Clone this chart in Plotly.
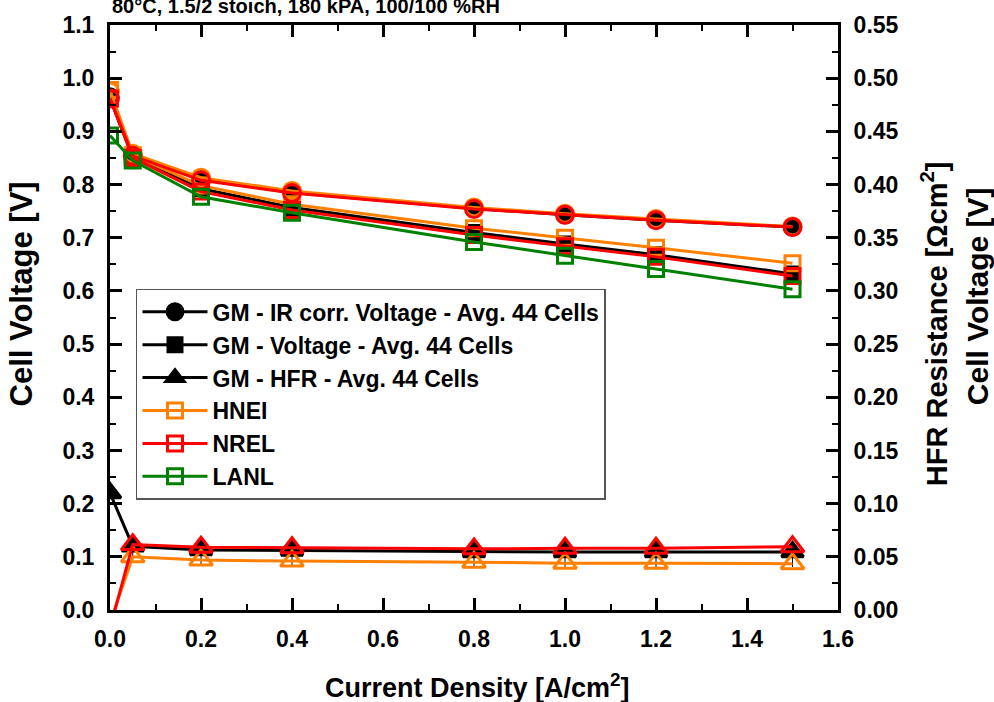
import plotly.graph_objects as go

# ---------------- data ----------------
current_density = [0.0, 0.05, 0.2, 0.4, 0.8, 1.0, 1.2, 1.5]

gm_ir_voltage = [0.965, 0.855, 0.810, 0.785, 0.755, 0.743, 0.733, 0.720]
hnei_ir_voltage = [0.975, 0.858, 0.813, 0.788, 0.757, 0.745, 0.735, 0.721]
nrel_ir_voltage = [0.962, 0.854, 0.808, 0.784, 0.754, 0.743, 0.733, 0.720]

gm_voltage = [0.962, 0.852, 0.792, 0.757, 0.710, 0.688, 0.668, 0.632]
hnei_voltage = [0.978, 0.855, 0.798, 0.763, 0.718, 0.700, 0.681, 0.652]
nrel_voltage = [0.962, 0.850, 0.787, 0.752, 0.705, 0.684, 0.664, 0.628]
lanl_voltage = [0.892, 0.845, 0.777, 0.747, 0.692, 0.666, 0.641, 0.603]

gm_hfr = [0.110, 0.060, 0.0565, 0.056, 0.0545, 0.0545, 0.0545, 0.0545]
gm_hfr_err_minus = [0.0, 0.014, 0.014, 0.014, 0.014, 0.014, 0.014, 0.014]
nrel_hfr = [-0.017, 0.0615, 0.059, 0.0585, 0.0575, 0.058, 0.058, 0.0595]
hnei_hfr = [-0.012, 0.050, 0.047, 0.046, 0.045, 0.044, 0.044, 0.0435]

x_ticks = [0.0, 0.2, 0.4, 0.6, 0.8, 1.0, 1.2, 1.4, 1.6]

title_text = "80°C, 1.5/2 stoich, 180 kPA, 100/100 %RH"
legend_names = [
    "GM - IR corr. Voltage - Avg. 44 Cells",
    "GM - Voltage - Avg. 44 Cells",
    "GM - HFR - Avg. 44 Cells",
    "HNEI",
    "NREL",
    "LANL",
]

# ---------------- styles ----------------
BLACK = "#000000"
ORANGE = "#FF8000"
RED = "#FF0000"
GREEN = "#008000"
FONT = "Liberation Sans"
LW = 3

fig = go.Figure()


def add(y, color, symbol, size, name=None, rank=None, yaxis="y", legend=True, err=None):
    tr = go.Scatter(
        x=current_density, y=y, mode="lines+markers", yaxis=yaxis,
        line=dict(color=color, width=LW),
        marker=dict(symbol=symbol, size=size, color=color,
                    line=dict(color=color, width=3)),
        name=name, showlegend=legend,
    )
    if rank is not None:
        tr.legendrank = rank
    if err is not None:
        tr.error_y = dict(type="data", symmetric=False,
                          array=[0] * len(err), arrayminus=err,
                          color=BLACK, thickness=1, width=0)
    fig.add_trace(tr)


# GM (drawn first, underneath)
add(gm_ir_voltage, BLACK, "circle", 16, legend_names[0], 1)
add(gm_voltage, BLACK, "square", 14, legend_names[1], 2)
add(gm_hfr, BLACK, "triangle-up", 19, legend_names[2], 3, yaxis="y2", err=gm_hfr_err_minus)
# HNEI
add(hnei_ir_voltage, ORANGE, "circle-open", 17, legend=False)
add(hnei_voltage, ORANGE, "square-open", 15, legend_names[3], 4)
add(hnei_hfr, ORANGE, "triangle-up-open", 20, yaxis="y2", legend=False)
# NREL
add(nrel_ir_voltage, RED, "circle-open", 17, legend=False)
add(nrel_voltage, RED, "square-open", 15, legend_names[4], 5)
add(nrel_hfr, RED, "triangle-up-open", 20, yaxis="y2", legend=False)
# LANL
add(lanl_voltage, GREEN, "square-open", 15, legend_names[5], 6)

tickfont = dict(family=FONT, size=23, color=BLACK, weight="bold")


def tfont(size):
    return dict(family=FONT, size=size, color=BLACK, weight="bold")


fig.update_layout(
    width=994, height=702,
    margin=dict(l=110, r=156, t=22, b=92, pad=0),
    paper_bgcolor="white", plot_bgcolor="white",
    showlegend=True,
    legend=dict(
        x=0.0357, y=0.549, xanchor="left", yanchor="top",
        bgcolor="white", bordercolor="#555555", borderwidth=1.5,
        font=tfont(23),
        itemwidth=65, tracegroupgap=0,
        traceorder="normal",
    ),
    xaxis=dict(
        range=[0, 1.6], tickvals=x_ticks, tickformat=".1f",
        ticks="inside", ticklen=12, tickwidth=3, tickcolor=BLACK,
        minor=dict(ticks="inside", ticklen=6, tickwidth=2, dtick=0.1, tickcolor=BLACK),
        showline=True, linewidth=3, linecolor=BLACK, mirror="ticks",
        showgrid=False, zeroline=False, tickfont=tickfont,
        ticklabelstandoff=6,
    ),
    yaxis=dict(
        range=[0, 1.1], dtick=0.1, tick0=0, tickformat=".1f",
        ticks="inside", ticklen=12, tickwidth=3, tickcolor=BLACK,
        minor=dict(ticks="inside", ticklen=6, tickwidth=2, dtick=0.05, tickcolor=BLACK),
        showline=True, linewidth=3, linecolor=BLACK,
        showgrid=False, zeroline=False, tickfont=tickfont,
        ticklabelstandoff=8,
    ),
    yaxis2=dict(
        range=[0, 0.55], dtick=0.05, tick0=0, tickformat=".2f",
        overlaying="y", side="right",
        ticks="inside", ticklen=12, tickwidth=3, tickcolor=BLACK,
        minor=dict(ticks="inside", ticklen=6, tickwidth=2, dtick=0.025, tickcolor=BLACK),
        showline=True, linewidth=3, linecolor=BLACK,
        showgrid=False, zeroline=False, tickfont=tickfont,
        ticklabelstandoff=8,
    ),
    annotations=[
        dict(text=title_text, xref="paper", yref="paper", x=0.0, y=1.0,
             xanchor="left", yanchor="bottom", yshift=6, showarrow=False,
             font=tfont(20)),
        dict(text="Cell Voltage [V]", xref="paper", yref="paper",
             x=-0.121, y=0.541, textangle=-90, showarrow=False,
             xanchor="center", yanchor="middle", font=tfont(31)),
        dict(text="HFR Resistance [Ωcm<sup>2</sup>]", xref="paper", yref="paper",
             x=1.133, y=0.49, textangle=-90, showarrow=False,
             xanchor="center", yanchor="middle", font=tfont(29)),
        dict(text="Cell Voltage [V]", xref="paper", yref="paper",
             x=1.192, y=0.536, textangle=-90, showarrow=False,
             xanchor="center", yanchor="middle", font=tfont(30)),
        dict(text="Current Density [A/cm<sup>2</sup>]", xref="paper", yref="paper",
             x=0.505, y=-0.13, showarrow=False,
             xanchor="center", yanchor="middle", font=tfont(27)),
    ],
)

fig.write_html("out.html")
